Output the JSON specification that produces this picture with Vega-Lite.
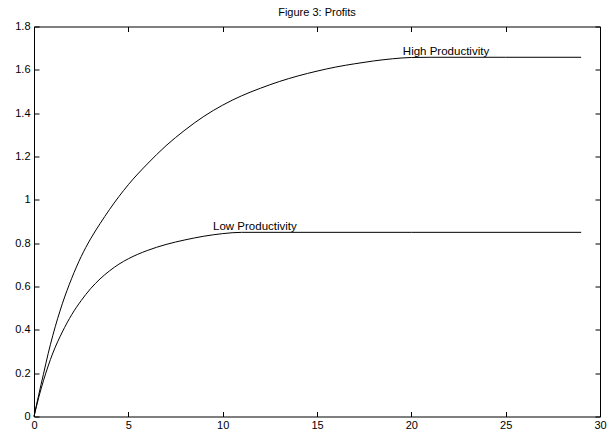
{
  "$schema": "https://vega.github.io/schema/vega-lite/v6.json",
  "width": 566,
  "height": 390,
  "autosize": {"type": "none"},
  "padding": {"left": 34, "top": 26.5, "right": 9, "bottom": 21.5},
  "background": "white",
  "config": {
    "font": "Liberation Sans",
    "view": {"stroke": "black", "strokeWidth": 1},
    "axis": {
      "grid": false,
      "domain": false,
      "tickColor": "black",
      "tickWidth": 1,
      "tickSize": -5,
      "labelColor": "black",
      "labelFontSize": 11,
      "labelFont": "Liberation Sans",
      "title": null
    }
  },
  "title": {
    "text": "Figure 3: Profits",
    "fontSize": 11,
    "fontWeight": "normal",
    "font": "Liberation Sans",
    "color": "black",
    "anchor": "middle",
    "offset": 3
  },
  "datasets": {
    "curves": [
      {"x": 0, "y": 0, "s": "High"},
      {"x": 0.25, "y": 0.1, "s": "High"},
      {"x": 0.5, "y": 0.195, "s": "High"},
      {"x": 0.75, "y": 0.29, "s": "High"},
      {"x": 1, "y": 0.375, "s": "High"},
      {"x": 1.5, "y": 0.52, "s": "High"},
      {"x": 2, "y": 0.638, "s": "High"},
      {"x": 2.5, "y": 0.738, "s": "High"},
      {"x": 3, "y": 0.82, "s": "High"},
      {"x": 3.5, "y": 0.89, "s": "High"},
      {"x": 4, "y": 0.955, "s": "High"},
      {"x": 4.5, "y": 1.015, "s": "High"},
      {"x": 5, "y": 1.07, "s": "High"},
      {"x": 6, "y": 1.165, "s": "High"},
      {"x": 7, "y": 1.25, "s": "High"},
      {"x": 8, "y": 1.322, "s": "High"},
      {"x": 9, "y": 1.385, "s": "High"},
      {"x": 10, "y": 1.437, "s": "High"},
      {"x": 11, "y": 1.48, "s": "High"},
      {"x": 12, "y": 1.515, "s": "High"},
      {"x": 13, "y": 1.546, "s": "High"},
      {"x": 14, "y": 1.572, "s": "High"},
      {"x": 15, "y": 1.594, "s": "High"},
      {"x": 16, "y": 1.613, "s": "High"},
      {"x": 17, "y": 1.628, "s": "High"},
      {"x": 18, "y": 1.641, "s": "High"},
      {"x": 19, "y": 1.651, "s": "High"},
      {"x": 20, "y": 1.657, "s": "High"},
      {"x": 21, "y": 1.658, "s": "High"},
      {"x": 25, "y": 1.658, "s": "High"},
      {"x": 29, "y": 1.658, "s": "High"},
      {"x": 0, "y": 0, "s": "Low"},
      {"x": 0.25, "y": 0.088, "s": "Low"},
      {"x": 0.5, "y": 0.165, "s": "Low"},
      {"x": 0.75, "y": 0.233, "s": "Low"},
      {"x": 1, "y": 0.293, "s": "Low"},
      {"x": 1.5, "y": 0.39, "s": "Low"},
      {"x": 2, "y": 0.47, "s": "Low"},
      {"x": 2.5, "y": 0.535, "s": "Low"},
      {"x": 3, "y": 0.59, "s": "Low"},
      {"x": 3.5, "y": 0.635, "s": "Low"},
      {"x": 4, "y": 0.672, "s": "Low"},
      {"x": 4.5, "y": 0.703, "s": "Low"},
      {"x": 5, "y": 0.728, "s": "Low"},
      {"x": 6, "y": 0.766, "s": "Low"},
      {"x": 7, "y": 0.794, "s": "Low"},
      {"x": 8, "y": 0.815, "s": "Low"},
      {"x": 9, "y": 0.832, "s": "Low"},
      {"x": 10, "y": 0.844, "s": "Low"},
      {"x": 11, "y": 0.85, "s": "Low"},
      {"x": 15, "y": 0.85, "s": "Low"},
      {"x": 20, "y": 0.85, "s": "Low"},
      {"x": 29, "y": 0.85, "s": "Low"}
    ],
    "labels": [
      {"x": 19.55, "y": 1.658, "label": "High Productivity"},
      {"x": 9.49, "y": 0.85, "label": "Low Productivity"}
    ]
  },
  "layer": [
    {
      "data": {"name": "curves"},
      "mark": {"type": "line", "color": "black", "strokeWidth": 1, "interpolate": "monotone"},
      "encoding": {
        "x": {"field": "x", "type": "quantitative", "scale": {"domain": [0, 30], "nice": false, "zero": false},
              "axis": {"orient": "bottom", "values": [0, 5, 10, 15, 20, 25, 30], "labelPadding": 8, "labelFlush": false, "labelOverlap": false}},
        "y": {"field": "y", "type": "quantitative", "scale": {"domain": [0, 1.8], "nice": false, "zero": false},
              "axis": {"orient": "left", "values": [0, 0.2, 0.4, 0.6, 0.8, 1, 1.2, 1.4, 1.6, 1.8], "format": "~g", "labelPadding": 9, "labelFlush": false, "labelOverlap": false}},
        "detail": {"field": "s"}
      }
    },
    {
      "data": {"name": "curves"},
      "mark": {"type": "line", "strokeOpacity": 0},
      "encoding": {
        "x": {"field": "x", "type": "quantitative", "scale": {"domain": [0, 30], "nice": false, "zero": false},
              "axis": {"orient": "top", "values": [0, 5, 10, 15, 20, 25, 30], "labels": false}},
        "y": {"field": "y", "type": "quantitative", "scale": {"domain": [0, 1.8], "nice": false, "zero": false},
              "axis": {"orient": "right", "values": [0, 0.2, 0.4, 0.6, 0.8, 1, 1.2, 1.4, 1.6, 1.8], "labels": false}},
        "detail": {"field": "s"}
      }
    },
    {
      "data": {"name": "labels"},
      "mark": {"type": "text", "align": "left", "baseline": "alphabetic", "dy": -2, "fontSize": 11.5, "font": "Liberation Sans", "color": "black"},
      "encoding": {
        "x": {"field": "x", "type": "quantitative", "axis": null},
        "y": {"field": "y", "type": "quantitative", "axis": null},
        "text": {"field": "label"}
      }
    }
  ],
  "resolve": {"axis": {"x": "independent", "y": "independent"}}
}
